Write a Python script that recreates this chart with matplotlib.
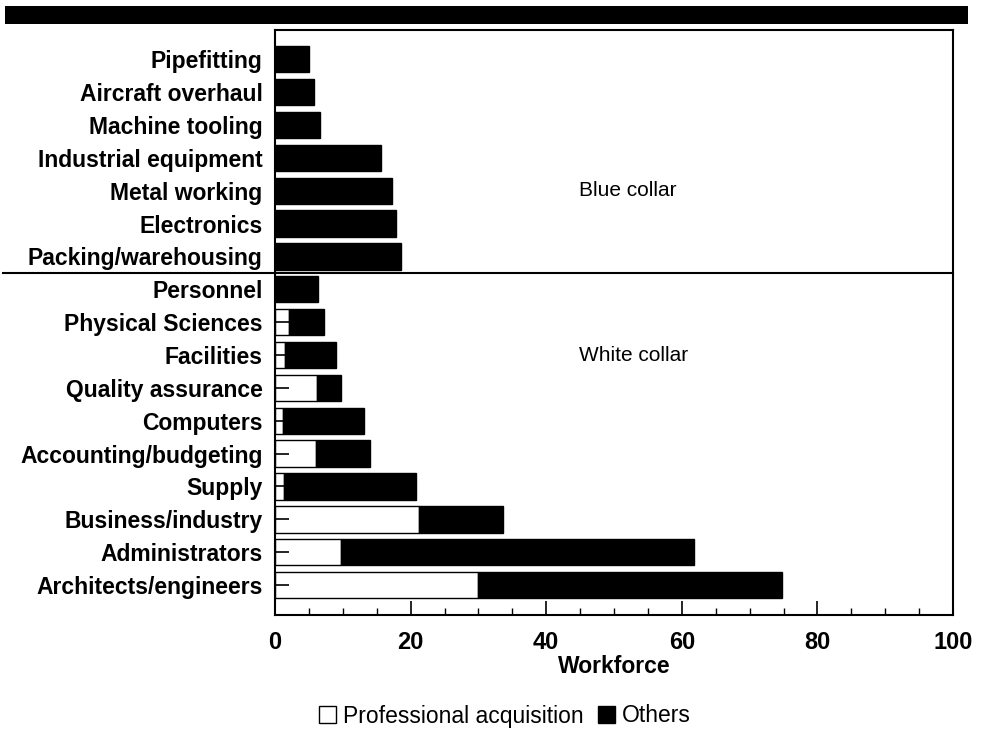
import matplotlib
matplotlib.use("Agg")
import matplotlib.pyplot as plt
from matplotlib.patches import Patch, Rectangle
from matplotlib.lines import Line2D
from matplotlib.ticker import MultipleLocator
import matplotlib.transforms as mtransforms
import numpy as np

plt.rcParams['font.family'] = ['Liberation Sans', 'DejaVu Sans']

categories = ["Pipefitting", "Aircraft overhaul", "Machine tooling", "Industrial equipment",
              "Metal working", "Electronics", "Packing/warehousing", "Personnel",
              "Physical Sciences", "Facilities", "Quality assurance", "Computers",
              "Accounting/budgeting", "Supply", "Business/industry", "Administrators",
              "Architects/engineers"]
professional = [0, 0, 0, 0, 0, 0, 0, 0, 2.1, 1.5, 6.2, 1.25, 6.1, 1.4, 21.2, 9.7, 29.9]
others = [5.0, 5.7, 6.7, 15.7, 17.2, 17.8, 18.6, 6.3, 5.1, 7.5, 3.6, 11.95, 7.9, 19.4, 12.4, 52.1, 44.9]
group_labels = ["Blue collar", "White collar"]
x_ticks = [0, 20, 40, 60, 80, 100]

fig = plt.figure(figsize=(9.9, 7.29), dpi=100)
ax = fig.add_axes([275/990, 1-615/729, (953-275)/990, (615-30)/729])

n = len(categories)
ypos = np.arange(n)[::-1]
ax.barh(ypos, professional, height=0.8, color='white', edgecolor='black', linewidth=1, zorder=1)
ax.barh(ypos, others, left=professional, height=0.8, color='black', edgecolor='black', linewidth=1, zorder=1)

ax.set_xlim(0, 100)
ax.set_ylim(-0.91, n - 1 + 0.89)
ax.set_yticks(ypos)
ax.set_yticklabels(categories, fontsize=16.5, fontweight='bold')
ax.set_xticks(x_ticks)
ax.set_xticklabels([str(v) for v in x_ticks], fontsize=17, fontweight='bold')
ax.xaxis.set_minor_locator(MultipleLocator(5))
ax.tick_params(axis='x', which='major', direction='in', length=10, width=1.2, pad=11.5, top=False)
ax.tick_params(axis='x', which='minor', direction='in', length=5, width=1, top=False)
ax.tick_params(axis='y', which='major', direction='in', length=10, width=1.2, pad=9, right=False)
for s in ax.spines.values():
    s.set_linewidth(1.5)
ax.set_xlabel("Workforce", fontsize=16.5, fontweight='bold', labelpad=1)

# separator between blue collar and white collar
sep_y = (ypos[6] + ypos[7]) / 2
trans = mtransforms.blended_transform_factory(fig.transFigure, ax.transData)
ax.add_line(Line2D([3/990, 953/990], [sep_y, sep_y], transform=trans, color='black',
                   linewidth=1.5, clip_on=False))

ax.text(44.9, ypos[4], group_labels[0], fontsize=15, va='center', ha='left')
ax.text(44.9, ypos[9], group_labels[1], fontsize=15, va='center', ha='left')

# banner
fig.patches.append(Rectangle((5/990, 1-24/729), 963/990, 18/729, transform=fig.transFigure,
                             facecolor='black', edgecolor='none'))

handles = [Patch(facecolor='white', edgecolor='black', linewidth=1, label='Professional acquisition'),
           Patch(facecolor='black', edgecolor='black', linewidth=1, label='Others')]
fig.legend(handles=handles, loc='center', bbox_to_anchor=(505/990, 1-716/729), ncol=2,
           frameon=False, fontsize=16.5, handlelength=0.75, handleheight=0.75,
           handletextpad=0.3, columnspacing=0.6, borderaxespad=0)

fig.savefig("out.png", dpi=100)
